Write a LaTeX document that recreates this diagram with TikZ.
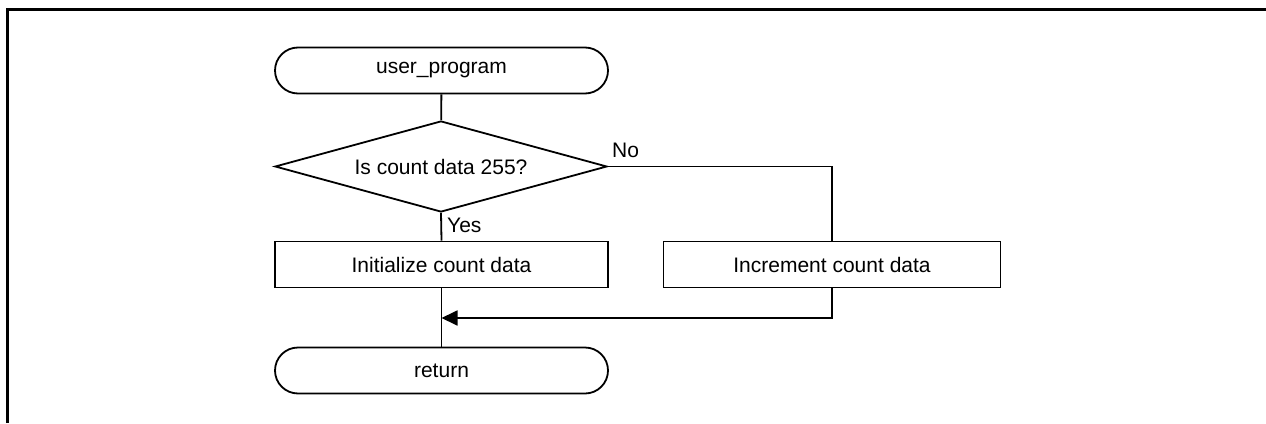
\documentclass[tikz,border=0pt]{standalone}
\usepackage{fontspec}
\setmainfont{Liberation Sans}
\usetikzlibrary{shapes.geometric,arrows.meta}
\begin{document}
\begin{tikzpicture}[x=1pt,y=-1pt,
  every node/.style={font=\fontsize{21}{25}\selectfont},
  term/.style={draw,line width=1.8pt,rectangle,rounded corners=23pt,minimum width=333pt,minimum height=46pt,inner sep=0pt},
  procbox/.style={draw,line width=1.8pt,rectangle,minimum height=46pt,inner sep=0pt},
  decide/.style={draw,line width=1.8pt,diamond,aspect=3.65,minimum width=332pt,minimum height=91pt,inner sep=0pt},
  conn/.style={line width=1.8pt},
  lbl/.style={inner sep=0pt}]
\useasboundingbox (0,0) rectangle (1266,423);
\draw[line width=3pt] (7.5,423) -- (7.5,9.5) -- (1266,9.5);
\node[term] (start) at (441.5,70.5) {user\_program};
\node[decide] (dec) at (441,166.5) {Is count data 255?};
\node[procbox,minimum width=333pt] (init) at (441.5,264.5) {Initialize count data};
\node[procbox,minimum width=337pt] (inc) at (832,264.5) {Increment count data};
\node[term] (ret) at (441.5,370.5) {return};
\coordinate (m) at (441.5,318);
\draw[conn] (start) -- (dec);
\draw[conn] (dec.south) -- (init.north);
\draw[conn] (dec.east) -- (inc.north |- dec.east) -- (inc.north);
\draw[conn] (init) -- (ret);
\draw[conn,-{Triangle[length=16pt,width=15pt]}] (inc.south) |- (m);
\node[lbl,anchor=base west] (yes) at (447,232.5) {Yes};
\node[lbl,anchor=base west] (no) at (612,157.5) {No};
\end{tikzpicture}
\end{document}
